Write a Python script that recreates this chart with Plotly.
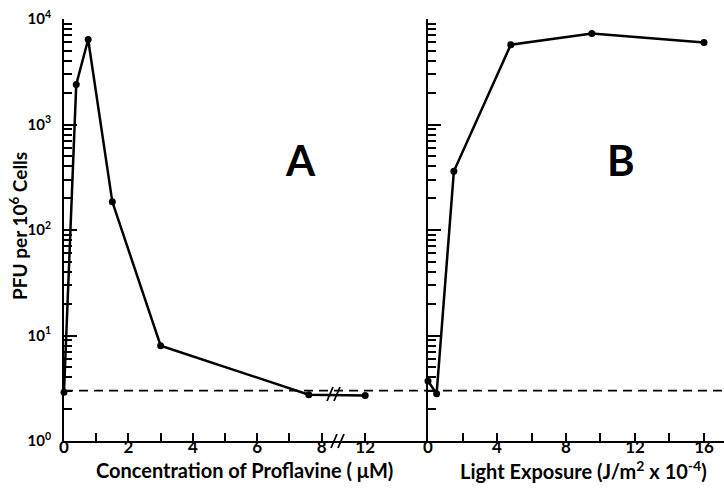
import plotly.graph_objects as go

# ---------------- data ----------------
# Panel A: PFU vs concentration of proflavine (uM)
conc_uM = [0, 0.38, 0.75, 1.5, 3.0, 7.6, 12]
pfu_A = [2.9, 2400, 6400, 185, 8.0, 2.75, 2.7]

# Panel B: PFU vs light exposure (J/m^2 x 10^-4)
light_exp = [0, 0.5, 1.5, 4.8, 9.5, 16]
pfu_B = [3.7, 2.8, 360, 5700, 7300, 6000]

background_level = 3.0

xA_tickvals = [0, 1, 2, 3, 4, 5, 6, 7, 8, 12]
xA_ticktext = ["0", "", "2", "", "4", "", "6", "", "8", "12"]
xB_tickvals = [0, 2, 4, 6, 8, 10, 12, 14, 16]
xB_ticktext = ["0", "", "4", "", "8", "", "12", "", "16"]
y_tickvals = [1, 10, 100, 1000, 10000]
y_ticktext = ["10<sup>0</sup>", "10<sup>1</sup>", "10<sup>2</sup>", "10<sup>3</sup>", "10<sup>4</sup>"]

# broken x axis in panel A (8 ... 12)
BREAK_LO, BREAK_HI, BREAK_GAP = 8, 12, 1.35


def brk(c):
    return c if c <= BREAK_LO else BREAK_LO + BREAK_GAP + (c - BREAK_HI)


FONT = "Lato"
INK = "black"

fig = go.Figure()

# dashed background lines
fig.add_trace(go.Scatter(x=[0, 11.3], y=[background_level] * 2, mode="lines",
                         line=dict(color=INK, width=1.6, dash="9px,6px"),
                         xaxis="x", yaxis="y", showlegend=False, hoverinfo="skip"))
fig.add_trace(go.Scatter(x=[0, 17.2], y=[background_level] * 2, mode="lines",
                         line=dict(color=INK, width=1.6, dash="9px,6px"),
                         xaxis="x2", yaxis="y2", showlegend=False, hoverinfo="skip"))

fig.add_trace(go.Scatter(x=[brk(c) for c in conc_uM], y=pfu_A, mode="lines+markers",
                         line=dict(color=INK, width=2.5), marker=dict(color=INK, size=7),
                         cliponaxis=False, xaxis="x", yaxis="y", showlegend=False))
fig.add_trace(go.Scatter(x=light_exp, y=pfu_B, mode="lines+markers",
                         line=dict(color=INK, width=2.5), marker=dict(color=INK, size=7),
                         cliponaxis=False, xaxis="x2", yaxis="y2", showlegend=False))

L, R, T, B = 64, 0, 19, 48
W, H = 724, 489
pw, ph = W - L - R, H - T - B
split = (428 - L) / pw

axis_common = dict(showline=True, linecolor=INK, linewidth=2, showgrid=False, zeroline=False,
                   ticks="inside", tickcolor=INK, tickwidth=1.5)
xfont = dict(family=FONT, size=17, color=INK, weight="bold")
yfont = dict(family=FONT, size=15, color=INK, weight="bold")
minor_y = dict(dtick="D1", ticklen=8, ticks="inside", tickcolor=INK, tickwidth=1.5)

fig.update_layout(
    width=W, height=H, margin=dict(l=L, r=R, t=T, b=B),
    paper_bgcolor="white", plot_bgcolor="white",
    xaxis=dict(domain=[0, split], range=[0, 11.3], anchor="y",
               tickmode="array", tickvals=[brk(v) for v in xA_tickvals], ticktext=xA_ticktext,
               ticklen=8, tickfont=xfont, ticklabelstandoff=-10, **axis_common),
    xaxis2=dict(domain=[split, 1], range=[0, 17.16], anchor="y2",
                tickmode="array", tickvals=xB_tickvals, ticktext=xB_ticktext,
                ticklen=8, tickfont=xfont, ticklabelstandoff=-10, **axis_common),
    yaxis=dict(type="log", range=[0, 4], anchor="x", domain=[0, 1],
               tickmode="array", tickvals=y_tickvals, ticktext=y_ticktext, ticklen=13,
               tickfont=yfont, ticklabelstandoff=8, minor=minor_y, **axis_common),
    yaxis2=dict(type="log", range=[0, 4], anchor="x2", domain=[0, 1], matches="y",
                tickmode="array", tickvals=y_tickvals, ticktext=y_ticktext, ticklen=13,
                showticklabels=False, minor=minor_y, **axis_common),
)


def px(xp):
    return (xp - L) / pw


def py(yp):
    return (H - B - yp) / ph


# break marks (axis and data line)
shapes = []
for x0 in (331, 338):
    shapes.append(dict(type="line", xref="paper", yref="paper",
                       x0=px(x0), y0=py(448), x1=px(x0 + 6), y1=py(434),
                       line=dict(color=INK, width=1.8)))
    shapes.append(dict(type="line", xref="paper", yref="paper",
                       x0=px(x0 - 4), y0=py(401), x1=px(x0 + 2), y1=py(387),
                       line=dict(color=INK, width=1.8)))
fig.update_layout(shapes=shapes)

title_font = dict(family=FONT, size=20, color=INK, weight="bold")
ann = dict(xref="paper", yref="paper", showarrow=False, xanchor="center", yanchor="middle")
fig.add_annotation(text="Concentration of Proflavine ( \u03bcM)", x=px(244), y=py(470),
                   font=title_font, **ann)
fig.add_annotation(text="Light Exposure (J/m<sup>2</sup> x 10<sup>-4</sup>)", x=px(583), y=py(470),
                   font=title_font, **ann)
fig.add_annotation(text="PFU per 10<sup>6</sup> Cells", x=px(18), y=py(226), textangle=-90,
                   font=dict(family=FONT, size=19, color=INK, weight="bold"), **ann)
fig.add_annotation(text="A", x=px(300), y=py(160),
                   font=dict(family=FONT, size=42, color=INK, weight="bold"), **ann)
fig.add_annotation(text="B", x=px(621), y=py(160),
                   font=dict(family=FONT, size=42, color=INK, weight="bold"), **ann)

# remove the default page margin so the figure sits at the window's top-left corner
fig.write_html("out.html", config={"displayModeBar": False},
               post_script="document.body.style.margin='0px';")
